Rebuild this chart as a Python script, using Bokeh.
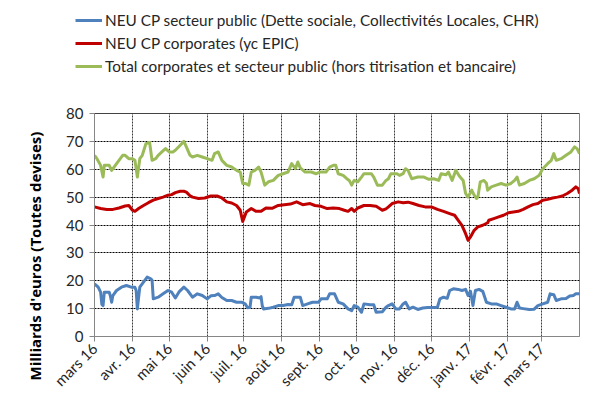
import math
from bokeh.plotting import figure
from bokeh.layouts import column, row
from bokeh.models import (Range1d, FixedTicker, Legend, LegendItem, Title, Span,
                          ColumnDataSource)
from bokeh.embed import file_html
from bokeh.resources import INLINE

# x values are days counted from 1 March 2016
month_ticks = [0, 31, 61, 92, 122, 153, 184, 214, 245, 275, 306, 337, 365]
month_labels = ["mars 16", "avr. 16", "mai 16", "juin 16", "juil. 16", "août 16",
                "sept. 16", "oct. 16", "nov. 16", "déc. 16", "janv. 17",
                "févr. 17", "mars 17"]

blue_day = [0, 3, 5, 6, 7, 8, 12, 13, 14, 15, 18, 22, 26, 30, 33, 34, 35, 36, 37, 40,
            43, 46, 47, 48, 52, 56, 60, 63, 66, 69, 73, 76, 80, 84, 88, 92, 95, 98,
            101, 104, 108, 112, 116, 120, 123, 125, 127, 128, 132, 135, 136, 137,
            138, 142, 146, 150, 154, 158, 161, 163, 168, 170, 174, 178, 183, 185,
            190, 192, 196, 199, 203, 207, 210, 212, 215, 218, 220, 225, 228, 230,
            235, 238, 240, 243, 246, 249, 252, 254, 257, 260, 264, 268, 272, 276,
            280, 282, 285, 288, 290, 293, 297, 300, 303, 305, 307, 309, 311, 314,
            317, 320, 324, 328, 332, 336, 340, 343, 345, 347, 350, 355, 359, 362,
            366, 370, 372, 375, 377, 381, 385, 388, 391, 393, 396]
blue_val = [18.9, 17.7, 15.9, 11.5, 11.1, 15.9, 15.9, 14.5, 12.3, 14.7, 16.5, 17.7,
            18.3, 17.7, 17.7, 16.5, 9.9, 14.0, 17.7, 19.5, 21.3, 20.7, 20.2, 13.5,
            14.1, 15.3, 16.5, 15.9, 13.8, 16.0, 17.7, 16.5, 14.1, 15.3, 14.7, 13.5,
            14.6, 14.7, 15.3, 14.0, 12.9, 12.9, 12.3, 12.3, 11.7, 10.3, 10.5, 14.1,
            14.1, 13.8, 14.3, 11.0, 9.9, 10.1, 10.5, 11.1, 11.1, 11.5, 11.4, 14.1,
            14.1, 11.1, 11.7, 12.3, 12.3, 13.5, 13.5, 15.3, 15.3, 12.3, 11.7, 9.9,
            9.3, 11.1, 10.5, 8.7, 11.7, 11.4, 11.4, 8.7, 8.9, 10.5, 11.1, 11.7, 9.9,
            9.9, 11.7, 12.3, 9.9, 10.5, 9.7, 10.2, 10.4, 10.4, 10.5, 13.5, 14.1,
            13.7, 16.5, 17.1, 16.9, 16.5, 16.9, 14.7, 16.2, 11.1, 16.5, 16.9, 16.2,
            12.3, 11.7, 11.7, 11.1, 10.5, 9.9, 9.9, 12.3, 10.2, 10.0, 9.7, 9.8,
            11.1, 11.7, 12.3, 15.3, 15.0, 12.9, 13.5, 13.6, 14.5, 14.7, 15.3, 15.3]

red_day = [0, 5, 10, 15, 20, 25, 28, 31, 33, 36, 40, 44, 48, 52, 56, 60, 63, 66, 70,
           73, 75, 78, 80, 85, 90, 95, 100, 104, 108, 112, 116, 119, 121, 124, 128,
           132, 136, 140, 145, 150, 155, 160, 165, 170, 176, 180, 185, 190, 195,
           200, 204, 207, 210, 212, 215, 220, 225, 230, 235, 238, 240, 243, 248,
           252, 256, 260, 265, 270, 275, 280, 285, 290, 294, 297, 300, 303, 305,
           307, 310, 313, 317, 321, 322, 326, 330, 334, 338, 342, 346, 350, 354,
           358, 362, 366, 370, 374, 378, 382, 386, 390, 393, 395, 396]
red_val = [46.5, 45.9, 45.6, 45.6, 46.1, 46.8, 47.0, 45.3, 44.9, 45.9, 47.0, 48.0,
           48.9, 49.5, 50.0, 50.7, 50.9, 51.6, 52.1, 52.1, 51.8, 50.5, 50.0, 49.5,
           49.7, 50.4, 50.4, 49.7, 48.3, 47.9, 47.0, 45.3, 41.3, 44.7, 45.9, 44.9,
           44.9, 46.1, 46.0, 47.0, 47.3, 47.5, 48.3, 47.3, 47.7, 47.0, 46.7, 45.9,
           46.1, 45.9, 45.3, 44.9, 45.9, 44.9, 46.1, 47.0, 47.0, 46.7, 45.3, 45.8,
           46.5, 47.7, 48.3, 48.0, 48.2, 47.7, 47.0, 46.5, 46.5, 45.6, 44.9, 44.1,
           43.5, 41.7, 39.9, 36.9, 34.5, 35.7, 38.1, 39.3, 39.9, 40.8, 41.7, 42.3,
           42.9, 43.5, 44.4, 44.7, 44.9, 45.6, 46.5, 47.3, 47.7, 48.9, 49.2, 49.7,
           50.0, 50.4, 51.3, 52.5, 53.7, 53.0, 51.3]

green_day = [0, 2, 5, 7, 8, 12, 14, 17, 20, 23, 25, 28, 31, 33, 35, 37, 39, 42, 45,
             47, 50, 52, 55, 58, 61, 64, 66, 70, 73, 75, 78, 80, 84, 88, 92, 96, 98,
             101, 104, 108, 112, 116, 119, 121, 123, 126, 128, 131, 134, 136, 139,
             142, 146, 150, 154, 158, 161, 164, 166, 168, 172, 177, 181, 184, 189,
             192, 195, 197, 199, 203, 206, 208, 210, 212, 215, 218, 220, 226, 228,
             231, 235, 238, 240, 242, 247, 249, 252, 254, 256, 259, 264, 269, 273,
             277, 281, 283, 287, 289, 292, 295, 298, 301, 303, 305, 308, 310, 312,
             313, 315, 318, 320, 321, 324, 328, 332, 336, 340, 343, 345, 347, 351,
             355, 359, 363, 366, 370, 373, 375, 377, 381, 385, 389, 392, 394, 396]
green_val = [65.0, 63.8, 61.4, 57.2, 61.4, 61.4, 59.6, 61.4, 63.2, 65.0, 65.0, 63.8,
             63.8, 63.2, 57.2, 63.8, 65.0, 69.2, 69.6, 63.2, 63.8, 65.0, 66.2, 67.4,
             66.2, 66.2, 66.8, 68.6, 70.0, 68.0, 65.0, 64.4, 65.0, 64.4, 63.8, 63.2,
             65.6, 66.2, 63.2, 61.4, 60.8, 59.6, 59.0, 54.9, 54.9, 54.3, 59.0, 59.6,
             60.8, 59.0, 54.3, 55.5, 56.0, 57.8, 58.4, 59.0, 62.0, 60.2, 62.6, 60.5,
             59.0, 59.0, 58.4, 59.0, 59.0, 60.8, 61.4, 61.4, 58.4, 57.8, 56.6, 56.0,
             54.3, 56.0, 55.5, 57.2, 58.4, 58.4, 57.2, 54.3, 54.3, 56.0, 56.6, 58.4,
             58.4, 57.8, 58.4, 60.2, 59.6, 56.6, 57.2, 57.2, 56.4, 56.6, 56.0, 58.4,
             58.0, 59.0, 56.0, 59.6, 57.5, 56.0, 51.3, 50.0, 52.5, 50.7, 49.5, 50.0,
             55.5, 56.0, 55.0, 52.5, 53.7, 54.3, 54.9, 54.3, 54.9, 56.0, 57.2, 54.3,
             54.9, 56.0, 56.6, 57.8, 60.2, 62.0, 63.2, 65.6, 63.2, 63.8, 65.0, 66.2,
             68.0, 67.4, 65.6]

series_names = ["NEU CP secteur public (Dette sociale, Collectivités Locales, CHR)",
                "NEU CP corporates (yc EPIC)",
                "Total corporates et secteur public (hors titrisation et bancaire)"]
series_colors = ["#4F81BD", "#C00000", "#9BBB59"]
y_title = "Milliards  d'euros (Toutes devises)"
y_ticks = [0, 10, 20, 30, 40, 50, 60, 70, 80]

FONT = "Lato"
TOP_H = 90
W, H = 594, 405

# ---- legend strip (top) ----
leg_fig = figure(width=W, height=TOP_H, output_backend="svg", toolbar_location=None,
                 x_range=Range1d(0, 1), y_range=Range1d(0, 1),
                 min_border=0, min_border_left=0, min_border_right=0,
                 min_border_top=0, min_border_bottom=0)
leg_fig.axis.visible = False
leg_fig.xgrid.visible = False
leg_fig.ygrid.visible = False
leg_fig.outline_line_color = None
nan_src = ColumnDataSource(dict(x=[float("nan")], y=[float("nan")]))
leg_items = []
for name, col in zip(series_names, series_colors):
    r = leg_fig.line("x", "y", source=nan_src, line_color=col, line_width=3)
    leg_items.append(LegendItem(label=name, renderers=[r]))
legend = Legend(items=leg_items, location=(75, 14), orientation="vertical",
                border_line_color=None, background_fill_alpha=0,
                padding=0, margin=0, spacing=3, label_height=20, glyph_height=20,
                glyph_width=27, label_standoff=3,
                label_text_font=FONT, label_text_font_size="15.3px",
                label_text_color="#262626")
leg_fig.add_layout(legend)

# ---- main chart ----
p = figure(width=W, height=H - TOP_H, output_backend="svg",
           toolbar_location=None, x_range=Range1d(0, 396), y_range=Range1d(0, 80),
           min_border_left=94, min_border_right=15, min_border_top=113 - TOP_H,
           min_border_bottom=H - 336)
p.outline_line_color = "#868686"
p.background_fill_color = "white"
p.border_fill_color = "white"

p.xgrid.ticker = FixedTicker(ticks=month_ticks)
p.xgrid.grid_line_color = "#3a3a3a"
p.xgrid.grid_line_dash = "2 1"
p.xgrid.grid_line_width = 1
p.ygrid.ticker = FixedTicker(ticks=y_ticks)
p.ygrid.grid_line_color = "black"
p.ygrid.grid_line_dash = "2 1"
p.ygrid.grid_line_width = 1
p.add_layout(Span(location=y_ticks[-1], dimension="width", line_color="black",
                  line_width=1))

p.xaxis.ticker = FixedTicker(ticks=month_ticks)
p.xaxis.major_label_overrides = {t: l for t, l in zip(month_ticks, month_labels)}
p.xaxis.major_label_orientation = math.pi / 4
p.yaxis.ticker = FixedTicker(ticks=y_ticks)
for ax in (p.xaxis[0], p.yaxis[0]):
    ax.axis_line_color = "#868686"
    ax.major_tick_line_color = "#868686"
    ax.major_tick_out = 5
    ax.major_tick_in = 0
    ax.minor_tick_line_color = None
    ax.major_label_text_font = FONT
    ax.major_label_text_color = "#262626"
p.xaxis.major_label_text_font_size = "15px"
p.yaxis.major_label_text_font_size = "15px"
p.yaxis.major_label_standoff = 6
p.xaxis.major_label_standoff = 4

ylab = Title(text=y_title, align="left", offset=-44, standoff=38,
             text_font="Open Sans", text_font_size="15px", text_font_style="bold",
             text_color="black")
p.add_layout(ylab, "left")

for d, v, col in ((blue_day, blue_val, series_colors[0]),
                  (red_day, red_val, series_colors[1]),
                  (green_day, green_val, series_colors[2])):
    src = ColumnDataSource(dict(x=d, y=v))
    p.line("x", "y", source=src, line_color=col, line_width=3, line_join="round")

layout = column(leg_fig, row(p, spacing=0), spacing=0)
open("out.html", "w").write(file_html(layout, INLINE))
